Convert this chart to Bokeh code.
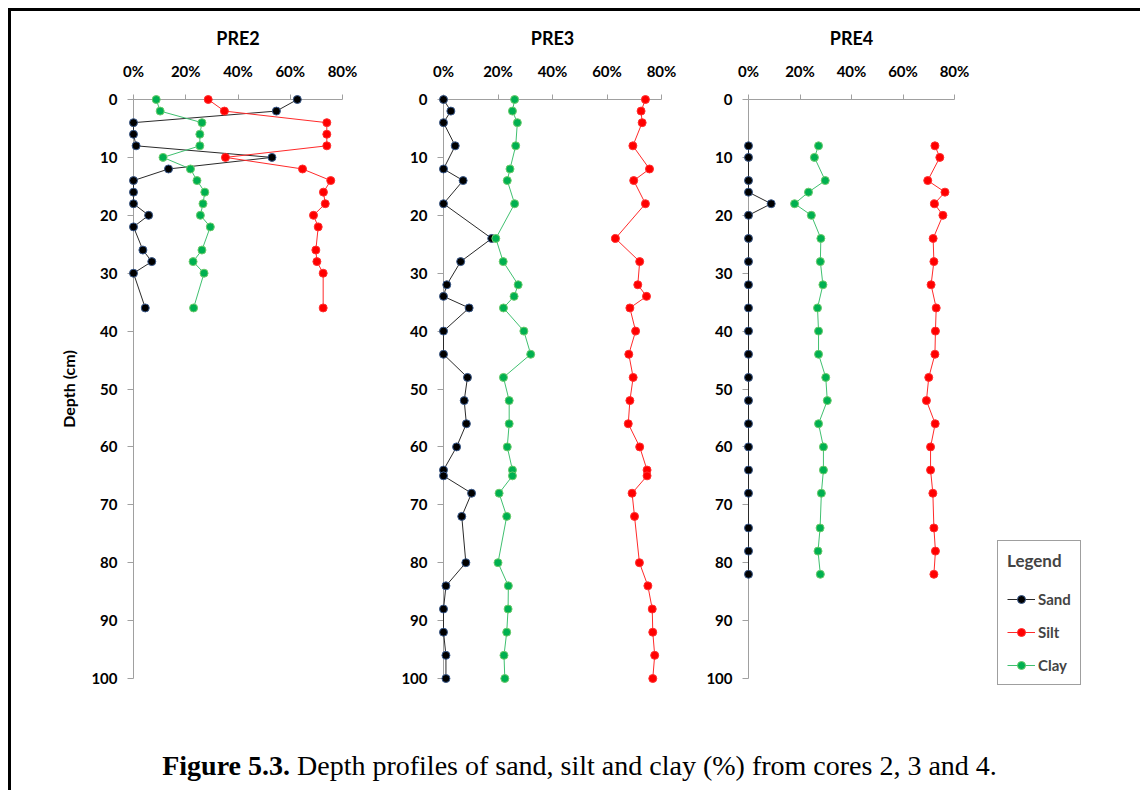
from bokeh.plotting import figure
from bokeh.models import Range1d, FixedTicker, Legend, LegendItem, Div
from bokeh.layouts import row, column
from bokeh.embed import file_html
from bokeh.resources import INLINE

FONT = "Lato"

# ---------------- data ----------------
x_ticks = [0, 20, 40, 60, 80]
x_tick_labels = ["0%", "20%", "40%", "60%", "80%"]
y_ticks = [0, 10, 20, 30, 40, 50, 60, 70, 80, 90, 100]
y_tick_labels = ["0", "10", "20", "30", "40", "50", "60", "70", "80", "90", "100"]

series_names = ["Sand", "Silt", "Clay"]
panel_names = ["PRE2", "PRE3", "PRE4"]

pre2_depth = [0, 2, 4, 6, 8, 10, 12, 14, 16, 18, 20, 22, 26, 28, 30, 36]
pre2_sand = [62.7, 54.7, 0, 0, 1.0, 53.0, 13.4, 0, 0, 0, 5.8, 0, 3.6, 7.0, 0, 4.5]
pre2_silt = [28.6, 34.8, 74.0, 74.0, 74.0, 35.2, 64.7, 75.5, 72.7, 73.4, 68.9, 70.7, 69.8, 70.2, 72.6, 72.6]
pre2_clay = [8.7, 10.2, 26.2, 25.4, 25.4, 11.3, 21.8, 24.3, 27.3, 26.6, 25.6, 29.4, 26.2, 22.8, 27.0, 23.0]

pre3_depth = [0, 2, 4, 8, 12, 14, 18, 24, 28, 32, 34, 36, 40, 44, 48, 52, 56, 60, 64, 65,
              68, 72, 80, 84, 88, 92, 96, 100]
pre3_sand = [0, 2.7, 0, 4.3, 0, 7.2, 0, 17.7, 6.3, 1.2, 0, 9.4, 0, 0, 8.8, 7.6, 8.4, 4.8, 0, 0,
             10.3, 6.7, 8.2, 0.9, 0, 0, 0.9, 0.9]
pre3_silt = [74.1, 72.5, 72.9, 69.5, 75.6, 69.8, 74.1, 63.1, 72.0, 71.3, 74.5, 68.4, 70.5, 68.0,
             69.6, 68.4, 67.8, 72.0, 74.7, 74.7, 69.2, 70.1, 71.9, 75.0, 76.6, 76.8, 77.5, 76.8]
pre3_clay = [26.1, 25.3, 27.1, 26.5, 24.4, 23.4, 26.1, 19.2, 21.9, 27.4, 25.9, 22.0, 29.5, 32.0,
             22.0, 24.1, 24.1, 23.4, 25.3, 25.3, 20.4, 23.2, 20.0, 23.8, 23.7, 23.2, 22.2, 22.5]

pre4_depth = [8, 10, 14, 16, 18, 20, 24, 28, 32, 36, 40, 44, 48, 52, 56, 60, 64, 68, 74, 78, 82]
pre4_sand = [0, 0, 0, 0, 8.8, 0, 0, 0, 0, 0, 0, 0, 0, 0, 0, 0, 0, 0, 0, 0, 0]
pre4_silt = [72.4, 74.3, 69.6, 76.3, 72.2, 75.5, 71.7, 72.0, 70.9, 72.9, 72.6, 72.4, 70.0, 69.1,
             72.5, 70.7, 70.7, 71.6, 72.0, 72.6, 72.0]
pre4_clay = [27.2, 25.6, 29.8, 23.3, 17.9, 24.4, 28.1, 27.9, 28.9, 26.8, 27.2, 27.2, 30.0, 30.6,
             27.2, 29.1, 29.1, 28.3, 27.8, 27.0, 27.9]

legend_title = "Legend"
caption_bold = "Figure 5.3."
caption_rest = "Depth profiles of sand, silt and clay (%) from cores 2, 3 and 4."

# ---------------- styles ----------------
STYLE = {
    "Sand": dict(line="#2a2a2a", fill="#000000", edge="#3A5A8C"),
    "Silt": dict(line="#FF2A2A", fill="#FF0000", edge="#FF3030"),
    "Clay": dict(line="#40C070", fill="#00B050", edge="#6CCB6C"),
}
FIG_H = 690


def make_panel(name, depth, cols, left, frame_w, right, top, frame_h, ylabel=None):
    p = figure(width=left + frame_w + right, height=FIG_H,
               x_range=Range1d(0, 80), y_range=Range1d(100, 0),
               x_axis_location="above", y_axis_location="left",
               output_backend="svg", toolbar_location=None,
               min_border_left=left, min_border_right=right,
               min_border_top=top, min_border_bottom=FIG_H - top - frame_h)
    p.outline_line_color = None
    p.grid.visible = False
    p.background_fill_color = "white"
    p.border_fill_color = "white"

    xa = p.xaxis[0]
    ya = p.yaxis[0]
    xa.ticker = FixedTicker(ticks=x_ticks)
    xa.major_label_overrides = dict(zip(x_ticks, x_tick_labels))
    ya.ticker = FixedTicker(ticks=y_ticks)
    ya.major_label_overrides = dict(zip(y_ticks, y_tick_labels))
    for ax in (xa, ya):
        ax.axis_line_color = "#A0A0A0"
        ax.axis_line_width = 1
        ax.major_tick_line_color = "#A0A0A0"
        ax.major_tick_in = 0
        ax.minor_tick_line_color = None
        ax.major_label_text_font = FONT
        ax.major_label_text_font_style = "bold"
        ax.major_label_text_font_size = "15px"
        ax.major_label_text_color = "black"
    xa.major_tick_out = 5
    xa.major_label_standoff = 15
    ya.major_tick_out = 6
    ya.major_label_standoff = 10

    xa.axis_label = name
    xa.axis_label_text_font = FONT
    xa.axis_label_text_font_style = "bold"
    xa.axis_label_text_font_size = "18px"
    xa.axis_label_text_color = "black"
    xa.axis_label_standoff = 10
    if ylabel:
        ya.axis_label = ylabel
        ya.axis_label_text_font = FONT
        ya.axis_label_text_font_style = "bold"
        ya.axis_label_text_font_size = "16px"
        ya.axis_label_text_color = "black"
        ya.axis_label_standoff = 10

    for sname, vals in zip(series_names, cols):
        st = STYLE[sname]
        p.line(vals, depth, line_color=st["line"], line_width=1, level="overlay")
        p.scatter(vals, depth, marker="circle", size=8, fill_color=st["fill"],
                  line_color=st["edge"], line_width=1, level="overlay")
    return p


p2 = make_panel(panel_names[0], pre2_depth, [pre2_sand, pre2_silt, pre2_clay],
                122, 209, 20, 88, 584, ylabel="Depth (cm)")
p3 = make_panel(panel_names[1], pre3_depth, [pre3_sand, pre3_silt, pre3_clay],
                81, 218, 20, 85, 583)
p4 = make_panel(panel_names[2], pre4_depth, [pre4_sand, pre4_silt, pre4_clay],
                67, 206, 20, 85, 582)

# ---------------- legend panel ----------------
# The legend sits in its own narrow panel; its key renderers reuse the PRE4 series,
# which fall outside this panel's (empty) view window, so only the legend is seen.
pl = figure(width=146, height=FIG_H, x_range=Range1d(-3, -2), y_range=Range1d(-3, -2),
            x_axis_location=None, y_axis_location=None,
            output_backend="svg", toolbar_location=None,
            min_border_left=0, min_border_right=0, min_border_top=0, min_border_bottom=0)
pl.outline_line_color = None
pl.grid.visible = False
items = []
for sname, vals in zip(series_names, [pre4_sand, pre4_silt, pre4_clay]):
    st = STYLE[sname]
    lr = pl.line(vals, pre4_depth, line_color=st["line"], line_width=1)
    sr = pl.scatter(vals, pre4_depth, marker="circle", size=8, fill_color=st["fill"],
                    line_color=st["edge"], line_width=1)
    items.append(LegendItem(label=sname, renderers=[lr, sr], index=0))

legend = Legend(items=items, location=(23, 16), title=legend_title,
                title_text_font=FONT, title_text_font_style="bold", title_text_font_size="17px",
                title_standoff=18,
                label_text_font=FONT, label_text_font_style="bold", label_text_font_size="15px",
                label_standoff=3, glyph_width=28, glyph_height=20, label_height=20,
                spacing=13, padding=9, margin=0,
                border_line_color="#404040", border_line_width=1.5,
                background_fill_color="white", background_fill_alpha=1.0)
pl.add_layout(legend)

caption = Div(text=(
    '<div style="font-family:\'Liberation Serif\',serif;font-size:28px;color:#000;'
    'text-align:center;padding-top:40px;width:1127px;white-space:nowrap;">'
    '<b>' + caption_bold + '</b> ' + caption_rest + '</div>'),
    width=1127, height=81)

layout = column(row(p2, p3, p4, column(pl)), caption,
                styles={"border-top": "3px solid black", "border-left": "3px solid black",
                        "margin-left": "8px", "margin-top": "8px"})

open("out.html", "w").write(file_html(layout, INLINE))
